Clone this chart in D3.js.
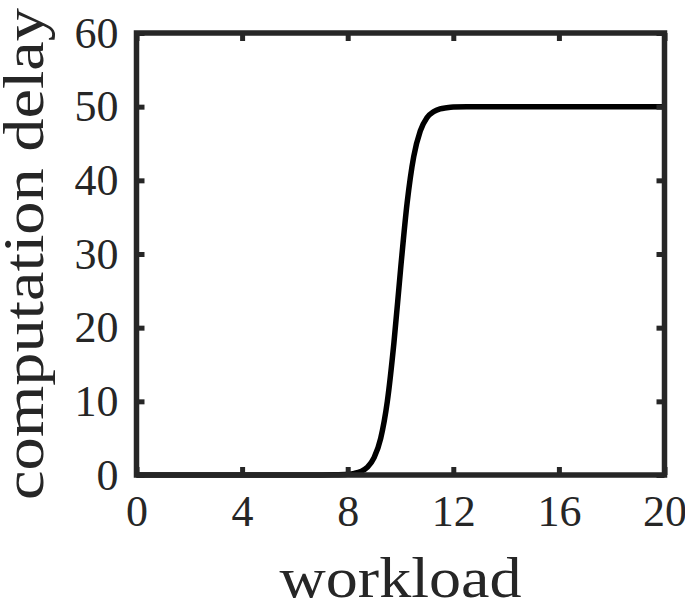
<!DOCTYPE html>
<html>
<head>
<meta charset="utf-8">
<script src="https://cdn.jsdelivr.net/npm/d3@7"></script>
<style>
  body { margin: 0; background: #fff; }
  svg { display: block; }
</style>
</head>
<body>
<div id="chart"></div>
<script>
// values
var workload = [0, 2, 4, 6, 7, 7.5, 8, 8.25, 8.5, 8.75, 9, 9.25, 9.5, 9.75, 10,
                10.25, 10.5, 10.75, 11, 11.25, 11.5, 11.75, 12, 12.5, 13, 14, 16, 18, 20]
var delay = [0, 0, 0, 0, 0, 0.02, 0.1, 0.22, 0.48, 1.07, 2.35, 4.98, 9.96, 17.9, 27.8,
             36.9, 43.2, 46.7, 48.5, 49.3, 49.7, 49.85, 49.95, 50, 50, 50, 50, 50, 50]
var xTicks = [0, 4, 8, 12, 16, 20]
var yTicks = [0, 10, 20, 30, 40, 50, 60]

var width = 685
var height = 600
var margin = { left: 136.5, right: 20.5, top: 33, bottom: 125 }
var axisColor = "#262626"
var font = "'Liberation Serif', 'DejaVu Serif', serif"

var svg = d3.select("#chart")
    .append("svg")
    .attr("width", width)
    .attr("height", height)

var x = d3.scaleLinear().domain([0, 20]).range([margin.left, width - margin.right])
var y = d3.scaleLinear().domain([0, 60]).range([height - margin.bottom, margin.top])

// the curve
var points = workload.map(function (d, i) { return [d, delay[i]] })
var line = d3.line()
    .x(function (d) { return x(d[0]) })
    .y(function (d) { return y(d[1]) })
    .curve(d3.curveMonotoneX)

svg.append("path")
    .datum(points)
    .attr("d", line)
    .attr("fill", "none")
    .attr("stroke", "#000")
    .attr("stroke-width", 5.5)
    .attr("stroke-linejoin", "round")

// axes, ticks inward on all four sides
function styleAxis(g) {
    g.select(".domain").remove()
    g.selectAll(".tick line").attr("stroke", axisColor).attr("stroke-width", 5)
    g.selectAll(".tick text")
        .attr("fill", axisColor)
        .style("font-family", font)
        .style("font-size", "44px")
}

var tickLen = 8
svg.append("g")
    .attr("transform", "translate(0," + y(0) + ")")
    .call(d3.axisBottom(x).tickValues(xTicks).tickSizeInner(-tickLen).tickSizeOuter(0).tickPadding(20))
    .call(styleAxis)
    .selectAll(".tick text").attr("dy", "0.71em")

svg.append("g")
    .attr("transform", "translate(0," + y(60) + ")")
    .call(d3.axisTop(x).tickValues(xTicks).tickSizeInner(-tickLen).tickSizeOuter(0).tickFormat(""))
    .call(styleAxis)

svg.append("g")
    .attr("transform", "translate(" + x(0) + ",0)")
    .call(d3.axisLeft(y).tickValues(yTicks).tickSizeInner(-tickLen).tickSizeOuter(0).tickPadding(18))
    .call(styleAxis)

svg.append("g")
    .attr("transform", "translate(" + x(20) + ",0)")
    .call(d3.axisRight(y).tickValues(yTicks).tickSizeInner(-tickLen).tickSizeOuter(0).tickFormat(""))
    .call(styleAxis)

// box
svg.append("rect")
    .attr("x", x(0))
    .attr("y", y(60))
    .attr("width", x(20) - x(0))
    .attr("height", y(0) - y(60))
    .attr("fill", "none")
    .attr("stroke", axisColor)
    .attr("stroke-width", 5.5)

// axis labels
svg.append("text")
    .attr("x", (x(0) + x(20)) / 2)
    .attr("y", 597)
    .attr("text-anchor", "middle")
    .attr("fill", axisColor)
    .attr("textLength", 242)
    .attr("lengthAdjust", "spacingAndGlyphs")
    .style("font-family", font)
    .style("font-size", "58px")
    .text("workload")

svg.append("text")
    .attr("transform", "translate(43," + ((y(0) + y(60)) / 2) + ") rotate(-90)")
    .attr("text-anchor", "middle")
    .attr("fill", axisColor)
    .attr("textLength", 492)
    .attr("lengthAdjust", "spacingAndGlyphs")
    .style("font-family", font)
    .style("font-size", "58px")
    .text("computation delay")
</script>
</body>
</html>
